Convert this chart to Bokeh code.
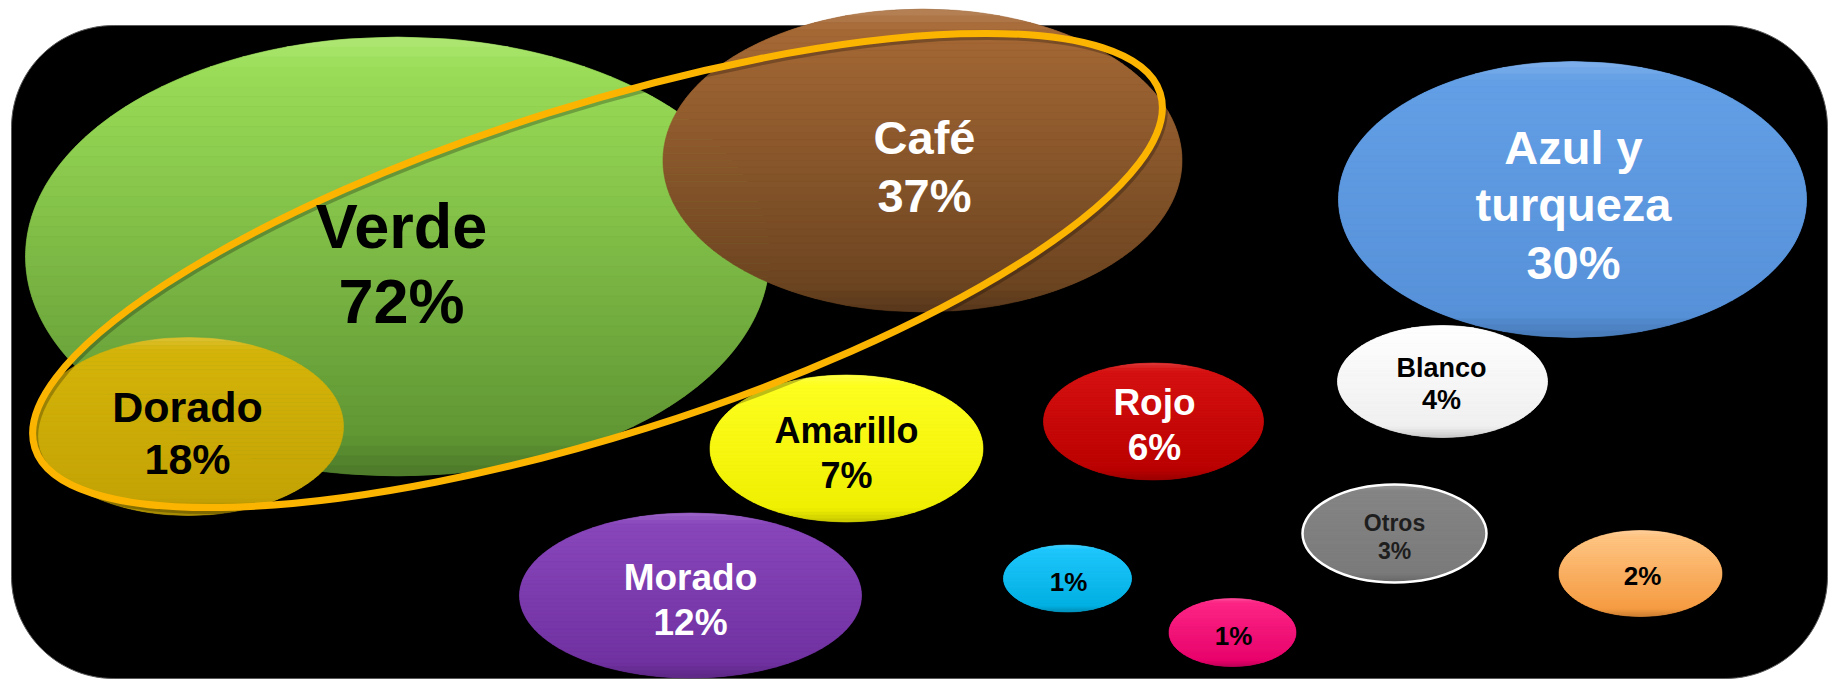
import numpy as np
from bokeh.plotting import figure
from bokeh.models import Range1d, ColumnDataSource
from bokeh.core.properties import value
from bokeh.embed import file_html
from bokeh.resources import INLINE

# ---------------- data ----------------
colores = ["Verde", "Café", "Azul y turqueza", "Dorado", "Amarillo", "Rojo",
           "Blanco", "Morado", "Otros", "Celeste", "Rosa", "Naranja"]
porcentajes = [72, 37, 30, 18, 7, 6, 4, 12, 3, 1, 1, 2]
etiquetas = ["Verde", "Café", "Azul y|turqueza", "Dorado", "Amarillo", "Rojo",
             "Blanco", "Morado", "Otros", "", "", ""]

# ---------------- layout (pixels, y measured downward) ----------------
W, H = 1837, 681
bx = [397, 922, 1572, 188, 846, 1153, 1442, 690, 1394, 1067, 1232, 1640]
by = [256, 160, 199, 426, 448, 421, 381, 595, 533, 578, 632, 573]
bw = [744, 519, 468, 310, 273, 220, 210, 342, 184, 128, 127, 163]
bh = [439, 303, 276, 178, 147, 117, 112, 165, 98, 67, 68, 86]

# label placement: x, first baseline, font size, line spacing, colour
tx = [401, 924, 1573, 187, 846, 1154, 1441, 690, 1394, 1068, 1233, 1642]
tb = [243, 150, 160, 419, 440, 412, 375, 587, 529, 589, 643, 583]
tfs = [63, 47, 47, 43, 36, 37, 27, 37, 23, 26, 26, 26]
tls = [75, 58, 57.5, 52, 45, 45, 32, 45, 28, 0, 0, 0]
tcol = ["black", "white", "white", "black", "black", "white", "black",
        "white", "#1e1e1e", "black", "black", "black"]

# fill gradients (top, bottom)
c_top = ["#9fe35a", "#a96b36", "#64a0e6", "#d6b50a", "#ffff22", "#d81212",
         "#ffffff", "#8a48bd", "#868686", "#22c9ff", "#ff2a88", "#ffc98a"]
c_bot = ["#5a8f30", "#67411f", "#5590d8", "#c2a204", "#eeee00", "#b80000",
         "#eeeeee", "#6e2f9e", "#7a7a7a", "#00aee0", "#e6006a", "#f5983c"]

# highlighted group (gold outline)
gx, gy, gw, gh, gang = 597, 270, 1180, 330, 17.5

# frame
fl, ft, fr, fb, frad = 11, 25, 1827, 678, 102

# ---------------- figure ----------------
p = figure(width=W, height=H, x_range=Range1d(0, W), y_range=Range1d(0, H),
           x_axis_type=None, y_axis_type=None, output_backend="svg",
           toolbar_location=None, min_border=0)
p.xgrid.visible = False
p.ygrid.visible = False
p.outline_line_color = None
p.background_fill_color = "white"
p.border_fill_color = "white"

# rounded black frame
fx, fy = [], []
for (ccx, ccy, a0) in [(fr - frad, ft + frad, -90), (fr - frad, fb - frad, 0),
                       (fl + frad, fb - frad, 90), (fl + frad, ft + frad, 180)]:
    ang = np.radians(np.linspace(a0, a0 + 90, 30))
    fx += list(ccx + frad * np.cos(ang))
    fy += list(ccy + frad * np.sin(ang))
p.patch(fx, [H - v for v in fy], fill_color="black", line_color="#5a5a5a", line_width=1)

# base ellipses
src = ColumnDataSource(dict(x=bx, y=[H - v for v in by], w=bw, h=bh,
                            c=c_bot, name=colores, pct=porcentajes))
p.ellipse(x="x", y="y", width="w", height="h", source=src,
          fill_color="c", line_color=None)


def rgb(hx):
    return np.array([int(hx[i:i + 2], 16) for i in (1, 3, 5)], dtype=float)


def tohex(c):
    c = np.clip(np.round(c), 0, 255).astype(int)
    return "#%02x%02x%02x" % tuple(c)


# vertical gradient bands clipped to each ellipse
pxs, pys, pcs = [], [], []
n = 44
for i in range(len(bx)):
    a, b = bw[i] / 2.0, bh[i] / 2.0
    ct, cb = rgb(c_top[i]), rgb(c_bot[i])
    edges = np.linspace(-1, 1, n + 1)
    for j in range(n):
        ts = np.linspace(edges[j], edges[j + 1], 6)
        half = a * np.sqrt(np.clip(1 - ts ** 2, 0, None))
        xs = np.concatenate([bx[i] - half, (bx[i] + half)[::-1]])
        ys = np.concatenate([by[i] + b * ts, (by[i] + b * ts)[::-1]])
        tm = (j + 0.5) / n
        col = ct + (cb - ct) * tm
        tc = edges[j] + 1.0 / n
        if tc > 0.82:
            col = col * (1 - 0.9 * (tc - 0.82))
        if tc < -0.86:
            col = col + (255 - col) * 1.2 * (-0.86 - tc)
        pxs.append(list(xs))
        pys.append(list(H - ys))
        pcs.append(tohex(col))
p.patches(xs=pxs, ys=pys, fill_color=pcs, line_color=pcs, line_width=0.6)

# white rim of "Otros"
io = colores.index("Otros")
p.ellipse(x=[bx[io]], y=[H - by[io]], width=[bw[io]], height=[bh[io]],
          fill_color=None, line_color="white", line_width=2.5)

# gold outline grouping Verde, Café, Dorado
p.ellipse(x=[gx + 2], y=[H - gy - 3], width=[gw], height=[gh], angle=[np.radians(gang)],
          fill_color=None, line_color="black", line_alpha=0.25, line_width=7)
p.ellipse(x=[gx], y=[H - gy], width=[gw], height=[gh], angle=[np.radians(gang)],
          fill_color=None, line_color="#fbb500", line_width=7)

# labels (baseline correction for the SVG text renderer)
lx, ly, lt, lsz, lc = [], [], [], [], []
for i in range(len(bx)):
    lines = [s for s in etiquetas[i].split("|") if s] + [f"{porcentajes[i]}%"]
    for k, s in enumerate(lines):
        lx.append(tx[i])
        ly.append(H - (tb[i] + k * tls[i] - 0.28 * tfs[i]))
        lt.append(s)
        lsz.append(f"{tfs[i]}px")
        lc.append(tcol[i])
p.text(x=lx, y=ly, text=lt, text_font_size=lsz, text_color=lc,
       text_align="center", text_baseline="alphabetic",
       text_font=value("Liberation Sans"), text_font_style="bold")

open("out.html", "w").write(file_html(p, INLINE))
